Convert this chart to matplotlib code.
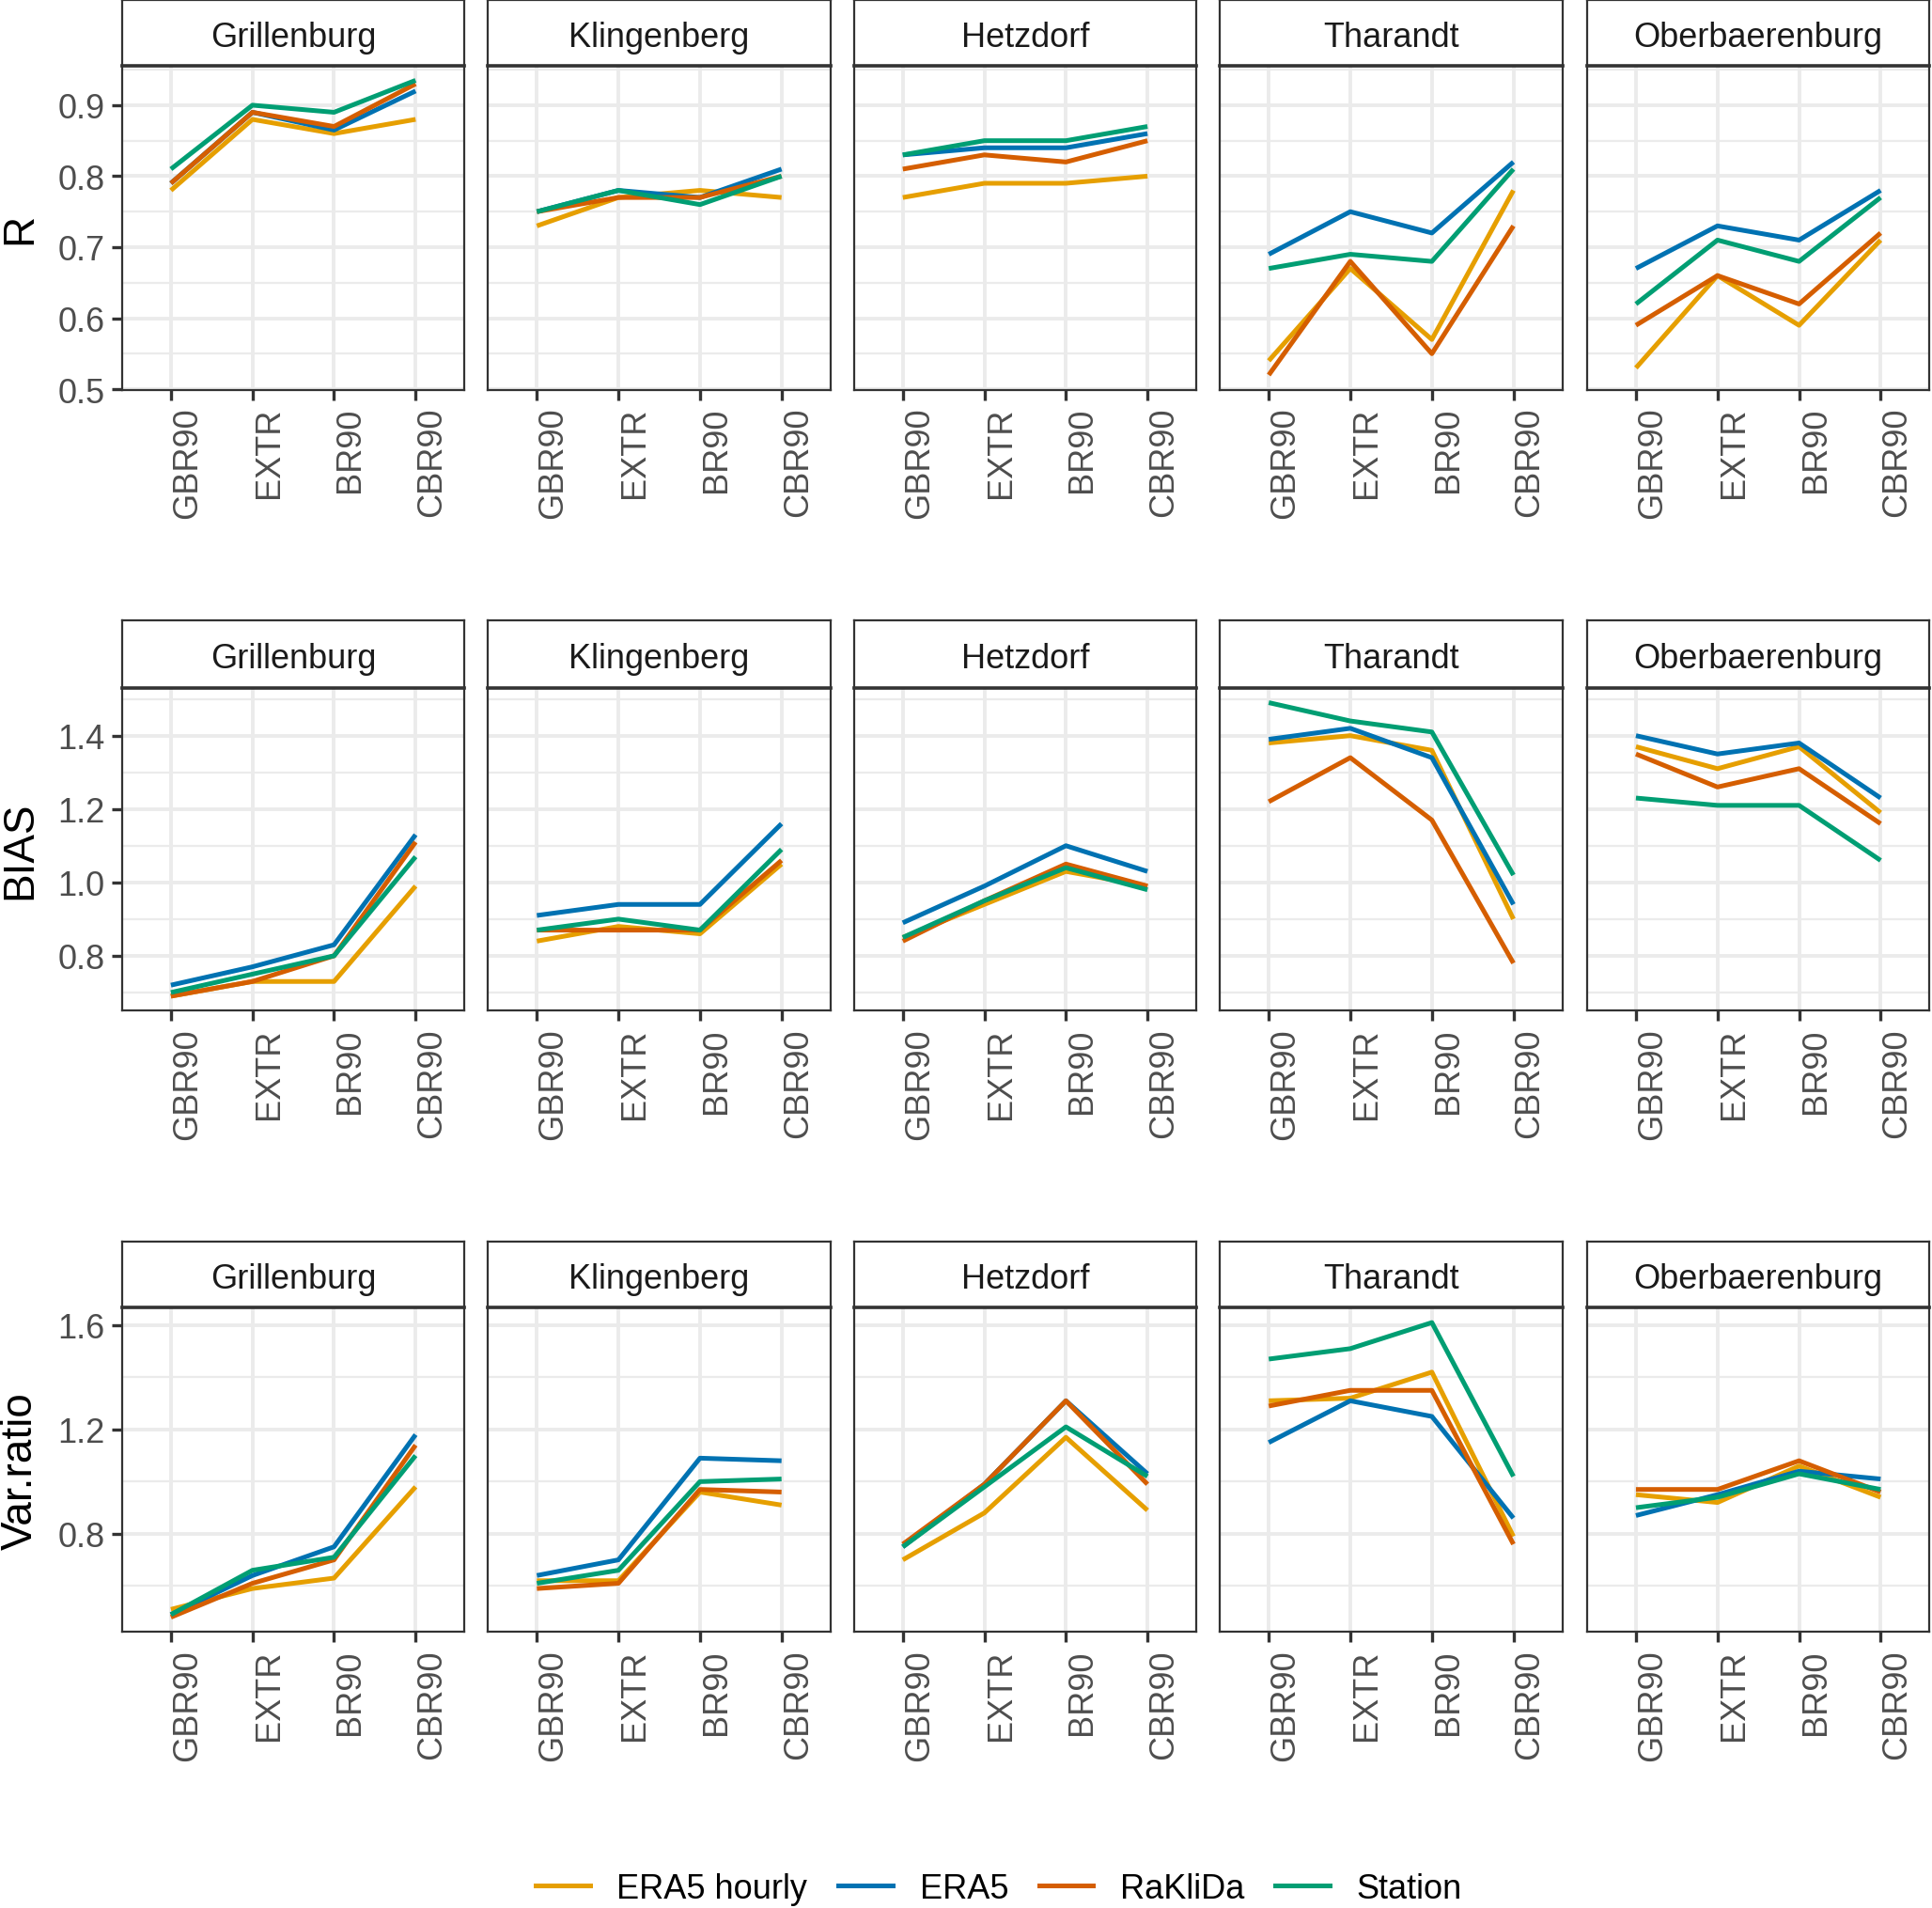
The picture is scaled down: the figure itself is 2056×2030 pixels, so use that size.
import matplotlib
matplotlib.use("Agg")
import matplotlib.pyplot as plt
from matplotlib.lines import Line2D

plt.rcParams['font.family'] = ['Liberation Sans', 'DejaVu Sans']

# ── Data ──────────────────────────────────────────────────────────────────────
SITES    = ["Grillenburg", "Klingenberg", "Hetzdorf", "Tharandt", "Oberbaerenburg"]
INDICES  = ["GBR90", "EXTR", "BR90", "CBR90"]
PRODUCTS = ["ERA5 hourly", "ERA5", "RaKliDa", "Station"]
COLORS   = ["#E69F00", "#0072B2", "#D55E00", "#009E73"]

# one list per site, values in INDICES order
R_ERA5H   = [[0.78, 0.88, 0.86, 0.88], [0.73, 0.77, 0.78, 0.77], [0.77, 0.79, 0.79, 0.80],
             [0.54, 0.67, 0.57, 0.78], [0.53, 0.66, 0.59, 0.71]]
R_ERA5    = [[0.79, 0.89, 0.865, 0.92], [0.75, 0.78, 0.77, 0.81], [0.83, 0.84, 0.84, 0.86],
             [0.69, 0.75, 0.72, 0.82], [0.67, 0.73, 0.71, 0.78]]
R_RAKLIDA = [[0.79, 0.89, 0.87, 0.93], [0.75, 0.77, 0.77, 0.80], [0.81, 0.83, 0.82, 0.85],
             [0.52, 0.68, 0.55, 0.73], [0.59, 0.66, 0.62, 0.72]]
R_STATION = [[0.81, 0.90, 0.89, 0.935], [0.75, 0.78, 0.76, 0.80], [0.83, 0.85, 0.85, 0.87],
             [0.67, 0.69, 0.68, 0.81], [0.62, 0.71, 0.68, 0.77]]

BIAS_ERA5H   = [[0.69, 0.73, 0.73, 0.99], [0.84, 0.88, 0.86, 1.05], [0.85, 0.94, 1.03, 0.99],
                [1.38, 1.40, 1.36, 0.90], [1.37, 1.31, 1.37, 1.19]]
BIAS_ERA5    = [[0.72, 0.77, 0.83, 1.13], [0.91, 0.94, 0.94, 1.16], [0.89, 0.99, 1.10, 1.03],
                [1.39, 1.42, 1.34, 0.94], [1.40, 1.35, 1.38, 1.23]]
BIAS_RAKLIDA = [[0.69, 0.73, 0.80, 1.11], [0.87, 0.87, 0.87, 1.06], [0.84, 0.95, 1.05, 0.99],
                [1.22, 1.34, 1.17, 0.78], [1.35, 1.26, 1.31, 1.16]]
BIAS_STATION = [[0.70, 0.75, 0.80, 1.07], [0.87, 0.90, 0.87, 1.09], [0.85, 0.95, 1.04, 0.98],
                [1.49, 1.44, 1.41, 1.02], [1.23, 1.21, 1.21, 1.06]]

VAR_ERA5H   = [[0.51, 0.59, 0.63, 0.98], [0.62, 0.62, 0.96, 0.91], [0.70, 0.88, 1.17, 0.89],
               [1.31, 1.32, 1.42, 0.79], [0.95, 0.92, 1.06, 0.94]]
VAR_ERA5    = [[0.49, 0.64, 0.75, 1.18], [0.64, 0.70, 1.09, 1.08], [0.75, 0.99, 1.31, 1.03],
               [1.15, 1.31, 1.25, 0.86], [0.87, 0.95, 1.04, 1.01]]
VAR_RAKLIDA = [[0.48, 0.61, 0.70, 1.14], [0.59, 0.61, 0.97, 0.96], [0.76, 0.99, 1.31, 0.99],
               [1.29, 1.35, 1.35, 0.76], [0.97, 0.97, 1.08, 0.96]]
VAR_STATION = [[0.49, 0.66, 0.71, 1.10], [0.61, 0.66, 1.00, 1.01], [0.75, 0.98, 1.21, 1.02],
               [1.47, 1.51, 1.61, 1.02], [0.90, 0.94, 1.03, 0.97]]

METRICS = ["R", "BIAS", "Var.ratio"]
METRIC_DATA = [
    [R_ERA5H, R_ERA5, R_RAKLIDA, R_STATION],
    [BIAS_ERA5H, BIAS_ERA5, BIAS_RAKLIDA, BIAS_STATION],
    [VAR_ERA5H, VAR_ERA5, VAR_RAKLIDA, VAR_STATION],
]
MAJOR_TICKS = [[0.5, 0.6, 0.7, 0.8, 0.9], [0.8, 1.0, 1.2, 1.4], [0.8, 1.2, 1.6]]
MINOR_TICKS = [[0.55, 0.65, 0.75, 0.85, 0.95], [0.7, 0.9, 1.1, 1.3, 1.5], [0.6, 1.0, 1.4]]

# ── Layout (pixel positions in a 1568 x 1549 reference grid) ──────────────────
RW, RH = 1568.0, 1549.0
LEFTS  = [99, 396, 693, 990, 1288]
PW     = 278
ROWS   = [(1, 54, 317), (504, 559, 821), (1008, 1062, 1325)]  # strip top, panel top, panel bottom

BORDER = "#333333"
GRID   = "#EBEBEB"
FS     = 26

fig = plt.figure(figsize=(20.56, 20.31), dpi=100)

for r, (s_top, p_top, p_bot) in enumerate(ROWS):
    series = METRIC_DATA[r]
    allv = [v for prod in series for site in prod for v in site]
    lo, hi = min(allv), max(allv)
    pad = (hi - lo) * 0.05
    for c, site in enumerate(SITES):
        x0 = LEFTS[c] / RW
        ax = fig.add_axes([x0, 1 - p_bot / RH, PW / RW, (p_bot - p_top) / RH])
        ax.set_axisbelow(True)
        for k, prod in enumerate(PRODUCTS):
            ax.plot(range(len(INDICES)), series[k][c], color=COLORS[k], lw=3.6,
                    solid_joinstyle="round", solid_capstyle="butt", zorder=3 + k)
        ax.set_xlim(-0.6, len(INDICES) - 0.4)
        ax.set_ylim(lo - pad, hi + pad)
        ax.set_xticks(range(len(INDICES)))
        ax.set_xticklabels(INDICES, rotation=90, ha="left", va="top")
        ax.set_yticks(MAJOR_TICKS[r])
        ax.set_yticks(MINOR_TICKS[r], minor=True)
        ax.set_yticklabels([f"{t:.1f}" for t in MAJOR_TICKS[r]])
        ax.grid(which="major", color=GRID, lw=2.8)
        ax.grid(which="minor", axis="y", color=GRID, lw=1.6)
        ax.tick_params(which="minor", length=0)
        ax.tick_params(which="major", length=8, width=2.4, color=BORDER,
                       labelsize=FS, labelcolor="#4D4D4D", pad=5)
        if c > 0:
            ax.tick_params(axis="y", which="both", left=False, labelleft=False)
        for sp in ax.spines.values():
            sp.set_color(BORDER)
            sp.set_linewidth(1.6)

        # facet strip
        st = fig.add_axes([x0, 1 - p_top / RH, PW / RW, (p_top - s_top) / RH])
        st.set_xticks([]); st.set_yticks([])
        st.set_facecolor("white")
        for sp in st.spines.values():
            sp.set_color(BORDER)
            sp.set_linewidth(1.6)
        st.spines["bottom"].set_linewidth(2.6)
        st.text(0.5, 0.44, site, ha="center", va="center", fontsize=FS,
                color="#1A1A1A", transform=st.transAxes)

    fig.text(0.0105, 1 - (p_top + p_bot) / 2 / RH, METRICS[r], rotation=90,
             ha="center", va="center", fontsize=33, color="black")

handles = [Line2D([], [], color=col, lw=3.6) for col in COLORS]
fig.legend(handles, PRODUCTS, loc="center", bbox_to_anchor=(0.517, 1 - 1533 / RH),
           ncol=4, frameon=False, fontsize=FS, handlelength=1.6,
           handletextpad=0.8, columnspacing=0.9)

fig.savefig("out.png", dpi=100)
